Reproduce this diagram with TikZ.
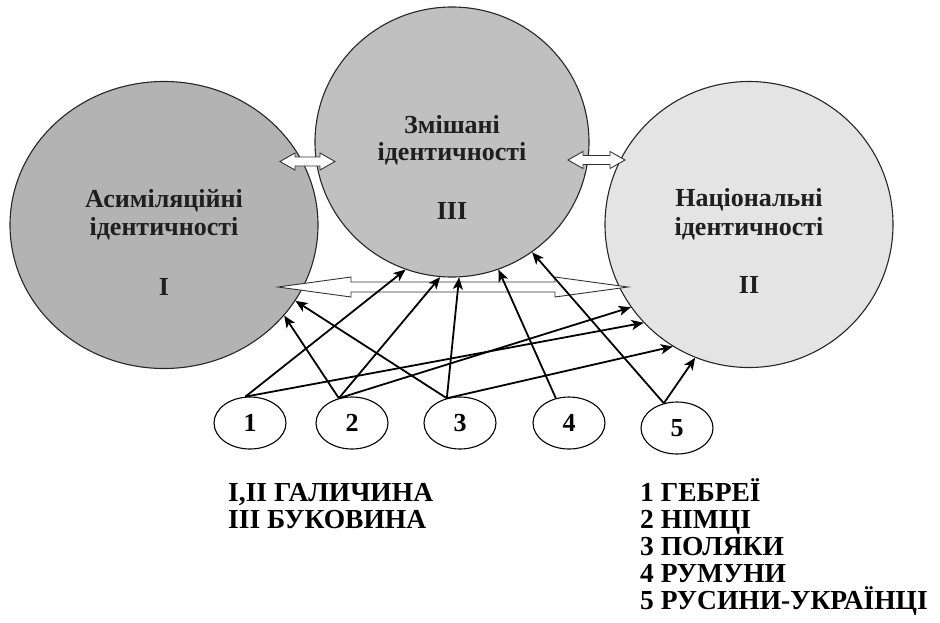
\documentclass[tikz,border=0pt]{standalone}
\usepackage{fontspec}
\setmainfont{Liberation Serif}
\usetikzlibrary{arrows.meta,calc,shapes.geometric}
\definecolor{cI}{HTML}{B3B3B3}
\definecolor{cIII}{HTML}{C0C0C0}
\definecolor{cII}{HTML}{E4E4E4}
\newcommand\dblarr[5]{\draw[dbl] (#1) -- ++(#3,-#4) -- ++(0,#4-#5) -- ($(#2)+(-#3,-#5)$) -- ++(0,#5-#4) -- (#2) -- ++(-#3,#4) -- ++(0,#5-#4) -- ($(#1)+(#3,#5)$) -- ++(0,#4-#5) -- cycle;}
\begin{document}
\begin{tikzpicture}[x=1pt,y=-1pt,
  bigcirc/.style={ellipse, draw=black!85, line width=1.1pt, inner sep=0pt},
  lbl/.style={font=\fontsize{26}{28}\selectfont\bfseries, text=black!88, inner sep=0pt, anchor=base},
  numell/.style={ellipse, draw, line width=1.1pt, minimum width=72pt, minimum height=52pt, inner sep=0pt, font=\fontsize{26}{26}\selectfont\bfseries},
  link/.style={line width=1.8pt, -{Stealth[length=12pt,width=10pt,inset=3pt]}},
  dbl/.style={draw=black!80, fill=white, line width=0.9pt},
  legend/.style={font=\fontsize{27.5}{27}\selectfont\bfseries, anchor=base west, inner sep=0pt}
]
\useasboundingbox (0,0) rectangle (940,622);
% big circles
\node[bigcirc, fill=cI, minimum width=308pt, minimum height=287pt] (L) at (164,225) {};
\node[bigcirc, fill=cII, minimum width=288pt, minimum height=286pt] (R) at (749,224.5) {};
\node[bigcirc, fill=cIII, minimum width=274pt, minimum height=270pt] (M) at (452,142) {};
% circle labels
\node[lbl] (L1) at (164,207) {Асиміляційні};
\node[lbl] (L2) at (164,235) {ідентичності};
\node[lbl] (L3) at (164,295.5) {I};
\node[lbl] (M1) at (452,133) {Змішані};
\node[lbl] (M2) at (452,160) {ідентичності};
\node[lbl] (M3) at (452,219.5) {III};
\node[lbl] (R1) at (749,206) {Національні};
\node[lbl] (R2) at (749,235) {ідентичності};
\node[lbl] (R3) at (749,293.5) {II};
% white double arrows
\coordinate (da1) at (280,161.5);
\coordinate (db1) at (335,161.5);
\coordinate (da2) at (568,160);
\coordinate (db2) at (625,160);
\coordinate (da3) at (278,287);
\coordinate (db3) at (628,287);
\dblarr{da1}{db1}{15}{8.5}{4.5}
\dblarr{da2}{db2}{15}{8.5}{4.5}
\dblarr{da3}{db3}{73}{10}{5}
% small ellipses
\node[numell] (n1) at (250,423) {1};
\node[numell] (n2) at (352,423) {2};
\node[numell] (n3) at (460,423) {3};
\node[numell] (n4) at (569,423) {4};
\node[numell] (n5) at (677,428) {5};
% black arrows
\draw[link] (n1.100) -- (M.250);
\draw[link] (n1.100) -- (R.223.5);
\draw[link] (n2.118) -- (L.323);
\draw[link] (n2.118) -- (M.265);
\draw[link] (n2.118) -- (R.215);
\draw[link] (n3.118) -- (L.330);
\draw[link] (n3.118) -- (M.273);
\draw[link] (n3.118) -- (R.238);
\draw[link] (n4.118) -- (M.290);
\draw[link] (n5.118) -- (M.306);
\draw[link] (n5.118) -- (R.248);
% legends
\node[legend] (g1) at (228,501) {I,II ГАЛИЧИНА};
\node[legend] (g2) at (228,528) {III БУКОВИНА};
\node[legend] (e1) at (640,501) {1 ГЕБРЕЇ};
\node[legend] (e2) at (640,528) {2 НІМЦІ};
\node[legend] (e3) at (640,555) {3 ПОЛЯКИ};
\node[legend] (e4) at (640,582) {4 РУМУНИ};
\node[legend] (e5) at (640,609) {5 РУСИНИ-УКРАЇНЦІ};
\end{tikzpicture}
\end{document}
